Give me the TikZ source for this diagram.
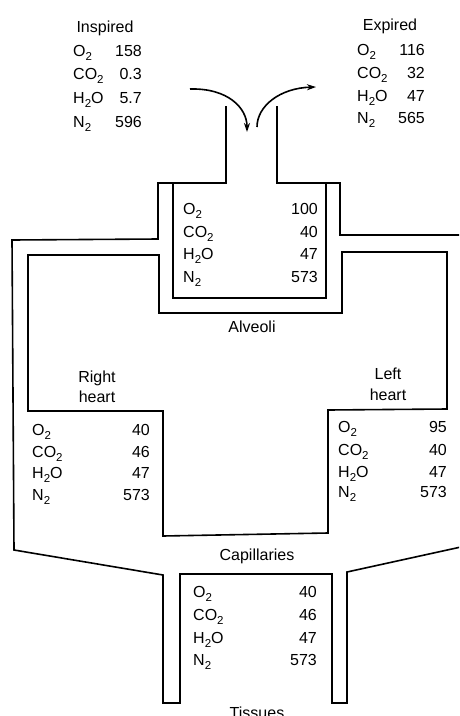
\documentclass[tikz,border=0pt]{standalone}
\usepackage{fontspec}
\setmainfont{Liberation Sans}
\usetikzlibrary{arrows.meta}
\newcommand\chemsub[1]{\raisebox{-0.55ex}{\fontsize{11.5}{12}\selectfont #1}}
\tikzset{
  wall/.style={line width=1.6pt, line join=miter},
  lbl/.style={inner sep=0pt, anchor=base west, font=\fontsize{16}{18}\selectfont},
  num/.style={inner sep=0pt, anchor=base east, font=\fontsize{16}{18}\selectfont},
  ttl/.style={inner sep=0pt, anchor=base, font=\fontsize{16}{18}\selectfont},
  flow/.style={line width=1.6pt, -{Stealth[length=9pt,width=6pt]}}
}
\begin{document}
\begin{tikzpicture}[x=1pt,y=-1pt]
\useasboundingbox (0,0) rectangle (459,716);
\clip (0,0) rectangle (459,716);
% walls
\draw[wall] (226,106) -- (226,183) -- (158,183) -- (158,239) -- (12,240) -- (14,550) -- (163,575) -- (163,703) -- (180,703) -- (180,574) -- (332,574) -- (332,703) -- (347,703) -- (347,572) -- (470,545);
\draw[wall] (277,106) -- (277,183) -- (340,183) -- (340,235) -- (470,235);
\draw[wall] (173,183) -- (173,298) -- (326,298) -- (326,183);
\draw[wall] (28,255) -- (159,255) -- (159,313) -- (342,313) -- (342,252) -- (447,252) -- (447,409) -- (328,410) -- (328,533) -- (163,536) -- (163,411) -- (28,411) -- cycle;
% arrows
\coordinate (inA) at (190,89);
\coordinate (inB) at (247,132);
\coordinate (exA) at (257,127);
\coordinate (exB) at (316,87);
\draw[flow] (inA) .. controls (228,88) and (247,108) .. (inB);
\draw[flow] (exA) .. controls (257,106) and (280,88) .. (exB);
% Inspired
\node[ttl] (insT) at (105,32) {Inspired};
\node[lbl] (insL1) at (73,56) {O\chemsub{2}};
\node[lbl] (insL2) at (73,79) {CO\chemsub{2}};
\node[lbl] (insL3) at (73,103) {H\chemsub{2}O};
\node[lbl] (insL4) at (73,127) {N\chemsub{2}};
\node[num] (insN1) at (142,56) {158};
\node[num] (insN2) at (142,79) {0.3};
\node[num] (insN3) at (142,103) {5.7};
\node[num] (insN4) at (142,127) {596};
% Expired
\node[ttl] (expT) at (390,30) {Expired};
\node[lbl] (expL1) at (357,55) {O\chemsub{2}};
\node[lbl] (expL2) at (357,78) {CO\chemsub{2}};
\node[lbl] (expL3) at (357,101) {H\chemsub{2}O};
\node[lbl] (expL4) at (357,123) {N\chemsub{2}};
\node[num] (expN1) at (425,55) {116};
\node[num] (expN2) at (425,78) {32};
\node[num] (expN3) at (425,101) {47};
\node[num] (expN4) at (425,123) {565};
% Alveoli
\node[lbl] (alvL1) at (183,214) {O\chemsub{2}};
\node[lbl] (alvL2) at (183,237) {CO\chemsub{2}};
\node[lbl] (alvL3) at (183,259) {H\chemsub{2}O};
\node[lbl] (alvL4) at (183,282) {N\chemsub{2}};
\node[num] (alvN1) at (318,214) {100};
\node[num] (alvN2) at (318,237) {40};
\node[num] (alvN3) at (318,259) {47};
\node[num] (alvN4) at (318,282) {573};
\node[ttl] (alvT) at (252,332) {Alveoli};
% Right heart
\node[ttl] (rhT1) at (97,382) {Right};
\node[ttl] (rhT2) at (97,402) {heart};
\node[lbl] (rhL1) at (32,435) {O\chemsub{2}};
\node[lbl] (rhL2) at (32,457) {CO\chemsub{2}};
\node[lbl] (rhL3) at (32,478) {H\chemsub{2}O};
\node[lbl] (rhL4) at (32,500) {N\chemsub{2}};
\node[num] (rhN1) at (150,435) {40};
\node[num] (rhN2) at (150,457) {46};
\node[num] (rhN3) at (150,478) {47};
\node[num] (rhN4) at (150,500) {573};
% Left heart
\node[ttl] (lhT1) at (388,379) {Left};
\node[ttl] (lhT2) at (388,400) {heart};
\node[lbl] (lhL1) at (338,432) {O\chemsub{2}};
\node[lbl] (lhL2) at (338,455) {CO\chemsub{2}};
\node[lbl] (lhL3) at (338,477) {H\chemsub{2}O};
\node[lbl] (lhL4) at (338,497) {N\chemsub{2}};
\node[num] (lhN1) at (447,432) {95};
\node[num] (lhN2) at (447,455) {40};
\node[num] (lhN3) at (447,477) {47};
\node[num] (lhN4) at (447,497) {573};
% Capillaries
\node[ttl] (capT) at (257,560) {Capillaries};
% Tissues
\node[lbl] (tisL1) at (193,597) {O\chemsub{2}};
\node[lbl] (tisL2) at (193,620) {CO\chemsub{2}};
\node[lbl] (tisL3) at (193,643) {H\chemsub{2}O};
\node[lbl] (tisL4) at (193,665) {N\chemsub{2}};
\node[num] (tisN1) at (317,597) {40};
\node[num] (tisN2) at (317,620) {46};
\node[num] (tisN3) at (317,643) {47};
\node[num] (tisN4) at (317,665) {573};
\node[ttl] (tisT) at (257,718) {Tissues};
\end{tikzpicture}
\end{document}
